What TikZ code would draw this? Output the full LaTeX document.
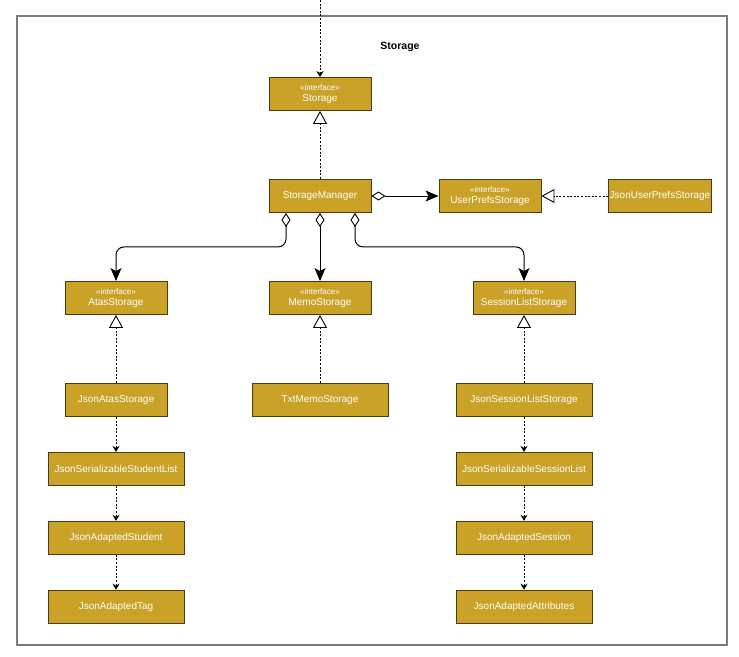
\documentclass[tikz,border=0pt]{standalone}
\usepackage{fontspec}
\setmainfont{Liberation Sans}
\usetikzlibrary{positioning}
\usetikzlibrary {arrows.meta}
\definecolor{boxgold}{HTML}{C9A227}
\definecolor{boxedge}{HTML}{4A3C10}
\definecolor{framegray}{HTML}{7A7A7A}
\tikzset{classbox/.style={rectangle,draw=boxedge,fill=boxgold,text=white,
line width=0.9pt,inner sep=1pt,minimum height=33pt, minimum width=102pt,
align=center,font=\fontsize{10}{11.5}\selectfont}}
\tikzset{classwide/.style={classbox,minimum width=136pt}}
\tikzset{depend/.style={line width=0.9pt,dash pattern=on 2pt off 1.6pt,
-{Stealth[length=6pt,width=7pt]}}}
\tikzset{realize/.style={line width=0.9pt,dash pattern=on 2pt off 1.6pt,
-{Triangle[open,length=13pt,width=14pt,line width=0.9pt]}}}
\tikzset{aggr/.style={line width=1pt,rounded corners=8pt,
{Diamond[open,length=14pt,width=9pt,line width=0.9pt]}-{Stealth[length=13pt,width=11pt,inset=3pt]}}}
\newcommand{\stereo}{{\fontsize{8}{9}\selectfont «interface»}}

\begin{document}
\begin{tikzpicture}[x=1pt,y=-1pt]
        \useasboundingbox (0,0) rectangle (739,656);
        \draw[framegray,line width=1.3pt] (17,16) rectangle (727,645);
        \node[font=\bfseries\fontsize{10.5}{12}\selectfont] (title) at (400,47) {Storage};

        \node[classbox] (boxStorage) at (320,94) {\stereo\\Storage};
        \node[classbox] (boxManager) at (320,196) {StorageManager};
        \node[classbox] (boxPrefs) at (490,196) {\stereo\\UserPrefsStorage};
        \node[classbox] (boxJsonPrefs) at (660,196) {JsonUserPrefsStorage};

        \node[classbox] (boxAtas) at (116,298) {\stereo\\AtasStorage};
        \node[classbox] (boxMemo) at (320,298) {\stereo\\MemoStorage};
        \node[classbox] (boxSession) at (524,298) {\stereo\\SessionListStorage};

        \node[classbox] (boxJsonAtas) at (116,400) {JsonAtasStorage};
        \node[classwide] (boxTxtMemo) at (320,400) {TxtMemoStorage};
        \node[classwide] (boxJsonSession) at (524,400) {JsonSessionListStorage};

        \node[classwide] (boxStudentList) [below=35pt of boxJsonAtas] {JsonSerializableStudentList};
        \node[classwide] (boxStudent) [below=35pt of boxStudentList] {JsonAdaptedStudent};
        \node[classwide] (boxTag) [below=35pt of boxStudent] {JsonAdaptedTag};

        \node[classwide] (boxSessionList) [below=35pt of boxJsonSession] {JsonSerializableSessionList};
        \node[classwide] (boxAdSession) [below=35pt of boxSessionList] {JsonAdaptedSession};
        \node[classwide] (boxAttr) [below=35pt of boxAdSession] {JsonAdaptedAttributes};

        \coordinate (topIn) at (320,0);
        \draw[depend] (topIn) -- (boxStorage.north);

        \draw[realize] (boxManager) -- (boxStorage);
        \draw[realize] (boxJsonPrefs) -- (boxPrefs);
        \draw[realize] (boxJsonAtas) -- (boxAtas);
        \draw[realize] (boxTxtMemo) -- (boxMemo);
        \draw[realize] (boxJsonSession) -- (boxSession);

        \draw[aggr] (boxManager) -- (boxPrefs);
        \draw[aggr] ([xshift=-34pt]boxManager.south) -- ++(0,34) -| (boxAtas.north);
        \draw[aggr] (boxManager) -- (boxMemo);
        \draw[aggr] ([xshift=35pt]boxManager.south) -- ++(0,34) -| (boxSession.north);

        \draw[depend] (boxJsonAtas) -- (boxStudentList);
        \draw[depend] (boxStudentList) -- (boxStudent);
        \draw[depend] (boxStudent) -- (boxTag);
        \draw[depend] (boxJsonSession) -- (boxSessionList);
        \draw[depend] (boxSessionList) -- (boxAdSession);
        \draw[depend] (boxAdSession) -- (boxAttr);

    \end{tikzpicture}
\end{document}
